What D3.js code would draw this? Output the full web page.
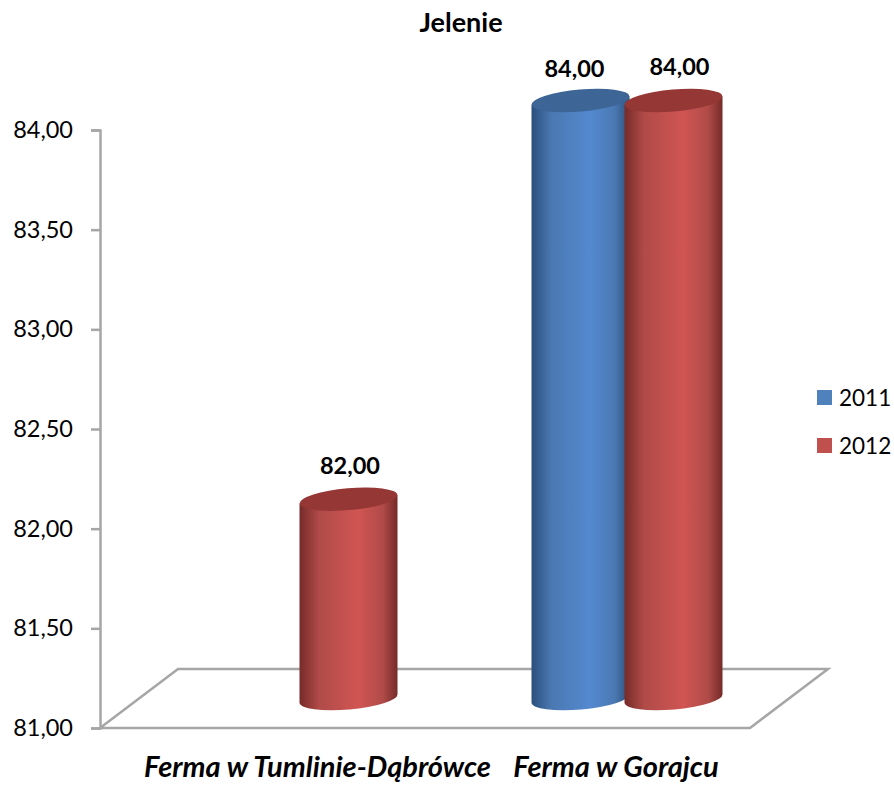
<!DOCTYPE html>
<html><head><meta charset="utf-8">
<script src="https://cdnjs.cloudflare.com/ajax/libs/d3/7.8.5/d3.min.js"></script>
<style>html,body{margin:0;background:#fff}svg{display:block}text{font-family:Lato,"Open Sans",sans-serif;fill:#000}</style>
</head><body><svg id="c" width="894" height="785"></svg>
<script>
const categories = ["Ferma w Tumlinie-Dąbrówce", "Ferma w Gorajcu"];
const seriesNames = ["2011", "2012"];
const values2011 = [null, 84];
const values2012 = [82, 84];
const tickValues = [81, 81.5, 82, 82.5, 83, 83.5, 84];
const colors = {
  "2011": {edge: "#2b4f7c", mid: "#4a78b1", light: "#5489d0", top: "#3d6596", key: "#4f81bd"},
  "2012": {edge: "#752b29", mid: "#b04b48", light: "#d05553", top: "#953735", key: "#c0504d"}
};

const svg = d3.select("#c");
const fmt = v => v.toFixed(2).replace(".", ",");

// value axis and the slanted floor depth
const y = d3.scaleLinear().domain([81, 84]).range([728, 130]);
const depthX = 78, depthY = -59;
const axisX = 100, floorW = 650;
const barLift = -29.5;    // cylinders stand midway back on the floor
const rx = 49, ry = 11, tilt = -5;

const x0 = d3.scaleBand().domain(categories).range([139.5, 789.5]);
const x1 = d3.scaleBand().domain(seriesNames).range([x0.bandwidth() / 2 - 93, x0.bandwidth() / 2 + 93]);

const defs = svg.append("defs");
seriesNames.forEach(s => {
  const g = defs.append("linearGradient").attr("id", "cyl" + s);
  [[0, colors[s].edge], [0.2, colors[s].mid], [0.6, colors[s].light], [0.85, colors[s].mid], [1, colors[s].edge]]
    .forEach(([o, c]) => g.append("stop").attr("offset", o).attr("stop-color", c));
});

const lineCol = "#a6a6a6";
// floor outline
const b = y(81);
svg.append("path")
  .attr("d", d3.line()([[axisX, b], [axisX + depthX, b + depthY], [axisX + depthX + floorW, b + depthY], [axisX + floorW, b], [axisX, b]]))
  .attr("fill", "none").attr("stroke", lineCol).attr("stroke-width", 2.5);

// value axis
const axis = d3.axisLeft(y).tickValues(tickValues).tickFormat(fmt).tickSize(9).tickPadding(5);
const ag = svg.append("g").attr("transform", `translate(${axisX},0)`).call(axis);
ag.selectAll("path,line").attr("stroke", lineCol).attr("stroke-width", 2.5);
ag.selectAll("text").style("font-size", "23.5px").attr("x", -27);

// cylinder: side wall with shaded gradient, tilted elliptical cap on top
const rows = [];
categories.forEach((c, i) => {
  if (values2011[i] != null) rows.push({c, s: "2011", v: values2011[i]});
  if (values2012[i] != null) rows.push({c, s: "2012", v: values2012[i]});
});
const labelShift = {"2011": -6, "2012": 6};
const labelGap = {"2011": 23.5, "2012": 25.5};
const cyl = svg.selectAll("g.cyl").data(rows).join("g").attr("class", "cyl")
  .attr("transform", d => `translate(${x0(d.c) + x1(d.s) + x1.bandwidth() / 2},0)`);

const tiltRad = tilt * Math.PI / 180;
const dy = rx * Math.sin(tiltRad);
cyl.append("path")
  .attr("d", d => {
    const t = y(d.v) + barLift, bt = y(81) + barLift;
    return `M${-rx},${t - dy} L${rx},${t + dy} L${rx},${bt + dy} A${rx} ${ry} ${tilt} 0 1 ${-rx},${bt - dy} Z`;
  })
  .attr("fill", d => `url(#cyl${d.s})`);
cyl.append("ellipse")
  .attr("rx", rx).attr("ry", ry)
  .attr("transform", d => `translate(0,${y(d.v) + barLift}) rotate(${tilt})`)
  .attr("fill", d => colors[d.s].top);

// value labels
svg.selectAll("text.val").data(rows).join("text").attr("class", "val")
  .attr("x", d => x0(d.c) + x1(d.s) + x1.bandwidth() / 2 + (d.c === categories[0] ? 1.5 : labelShift[d.s]))
  .attr("y", d => y(d.v) + barLift - labelGap[d.s])
  .attr("text-anchor", "middle").style("font-size", "23.5px").style("font-weight", 700)
  .text(d => fmt(d.v));

// title
svg.append("text").attr("x", 461).attr("y", 32).attr("text-anchor", "middle")
  .style("font-size", "27px").style("font-weight", 700).text("Jelenie");

// category labels
const catCenters = [317.5, 616];
svg.selectAll("text.cat").data(categories).join("text").attr("class", "cat")
  .attr("x", (d, i) => catCenters[i]).attr("y", 777).attr("text-anchor", "middle")
  .style("font-size", "29px").style("font-weight", 700).style("font-style", "italic").text(d => d);

// legend
const lg = svg.selectAll("g.key").data(seriesNames).join("g").attr("class", "key")
  .attr("transform", (d, i) => `translate(817,${390 + i * 48})`);
lg.append("rect").attr("width", 15).attr("height", 15).attr("fill", d => colors[d].key);
lg.append("text").attr("x", 22).attr("y", 16).style("font-size", "22.5px").text(d => d);
</script></body></html>
